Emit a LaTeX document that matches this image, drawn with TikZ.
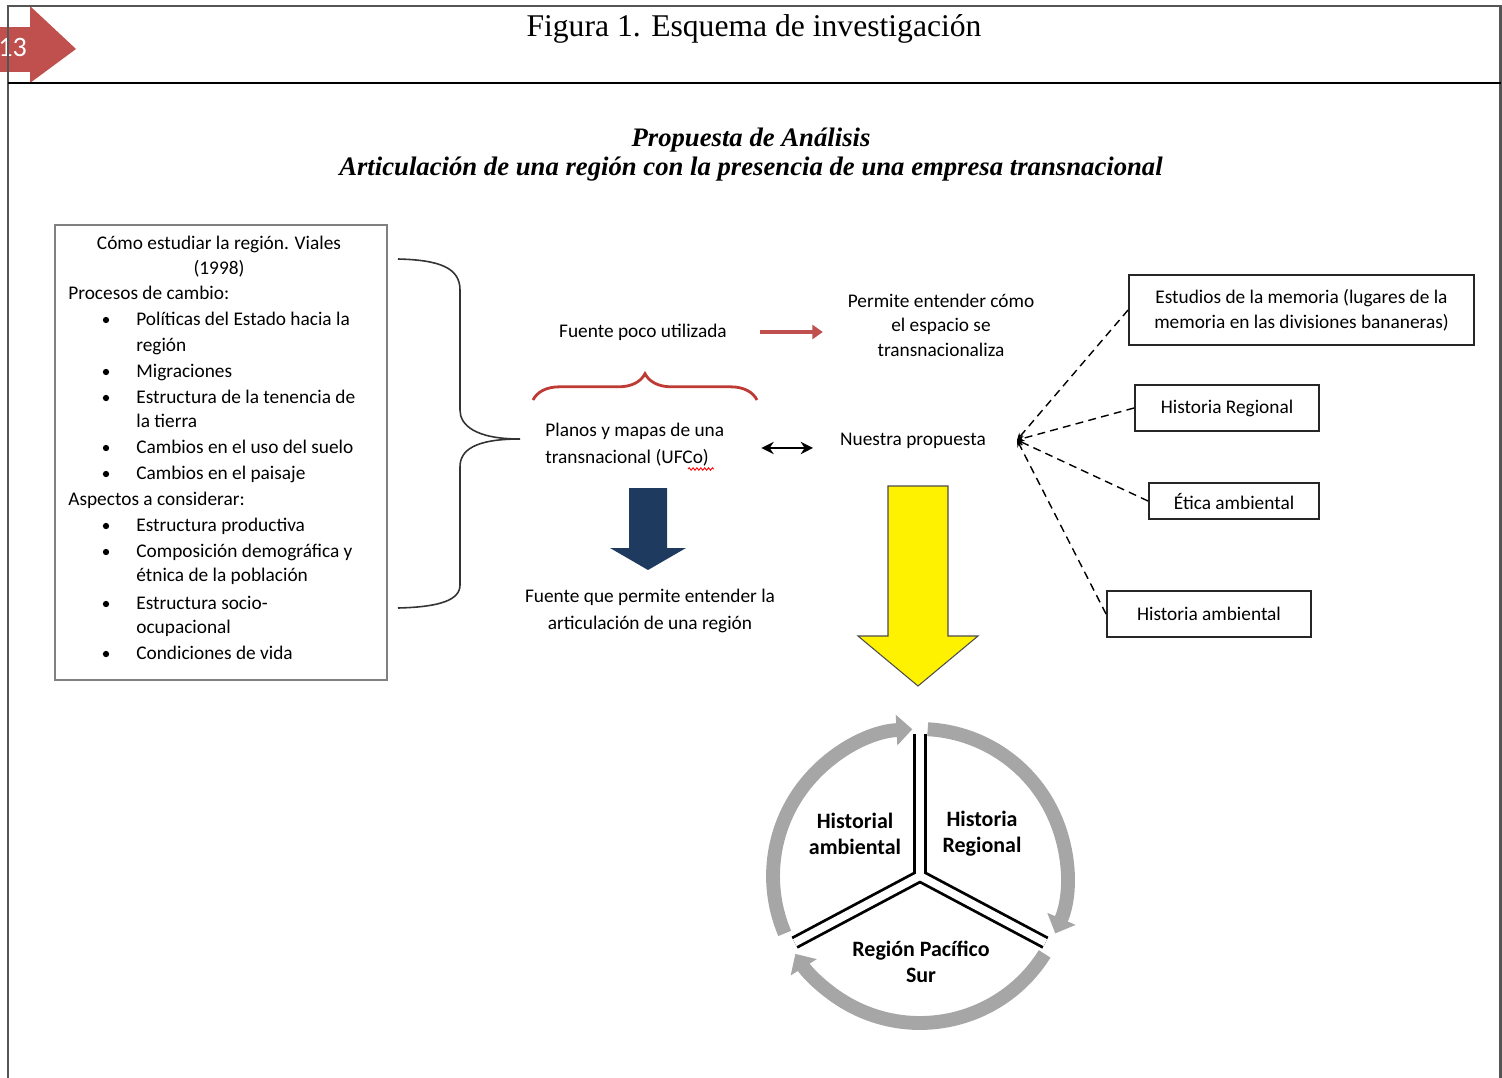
\documentclass[tikz,border=0pt]{standalone}
\usepackage{fontspec}
\setmainfont{Liberation Serif}
\newfontfamily\calibri{Carlito}
\usetikzlibrary{arrows.meta,decorations.pathreplacing,decorations.pathmorphing}

\definecolor{tagred}{HTML}{C0504D}
\definecolor{bracered}{HTML}{BE3A34}
\definecolor{navyarrow}{HTML}{1F3A5F}
\definecolor{ringgray}{HTML}{A6A6A6}
\definecolor{frameline}{HTML}{555555}

\tikzset{
  txt/.style={font=\calibri\fontsize{11}{14.7}\selectfont, inner sep=0pt},
  tagbox/.style={draw=black!85, line width=1.1pt, font=\calibri\fontsize{11}{14.2}\selectfont, align=center, inner sep=0pt},
  link/.style={dashed, dash pattern=on 4.5pt off 3pt, line width=0.8pt, -{Stealth[length=4pt,width=3.5pt]}},
  sector/.style={font=\calibri\bfseries\fontsize{12.5}{14.7}\selectfont, align=center, inner sep=0pt},
  ring/.style={ringgray, line width=7.9pt, -{Triangle[width=17pt,length=9pt]}},
}

\begin{document}
\begin{tikzpicture}[x=0.02cm, y=-0.02cm]
\useasboundingbox (0,0) rectangle (1502,1078);
% Page tag
\fill[tagred] (0,27) rectangle (30,72);
\fill[tagred] (30,6) -- (76,49) -- (30,83) -- cycle;
\node[white, font=\calibri\fontsize{16}{16}\selectfont, anchor=west, inner sep=0pt] (page) at (-2,47) {13};
% Frame
\draw[frameline, line width=1.2pt] (8,1078) -- (8,6) -- (1500.5,6) -- (1500.5,1078);
\draw[black, line width=0.9pt] (8,83) -- (1500.5,83);
\node[font=\fontsize{18}{18}\selectfont, inner sep=0pt] (title) at (754,28.5) {Figura 1. Esquema de investigación};
% Heading
\node[font=\bfseries\itshape\fontsize{15.2}{17}\selectfont, align=center, inner sep=0pt] (heading) at (751,154.5)
  {Propuesta de Análisis\\Articulación de una región con la presencia de una empresa transnacional};

% Left box
\node[draw=black!50, line width=0.8pt, minimum width=6.64cm, minimum height=9.1cm] (lbox) at (221,452.5) {};
\foreach \b/\t [count=\i] in {249/{Cómo estudiar la región. Viales}, 275/{(1998)}}
  \node[txt, anchor=base] (head\i) at (219,\b) {\t};
\foreach \b/\t [count=\i] in {299/{Procesos de cambio:}, 505/{Aspectos a considerar:}}
  \node[txt, anchor=base west] (sub\i) at (68,\b) {\t};
\foreach \b/\t [count=\i] in {325/{Políticas del Estado hacia la}, 351/{región}, 377/{Migraciones},
    403/{Estructura de la tenencia de}, 427/{la tierra}, 453/{Cambios en el uso del suelo},
    479/{Cambios en el paisaje}, 531/{Estructura productiva}, 557/{Composición demográfica y},
    581/{étnica de la población}, 609/{Estructura socio-}, 633/{ocupacional}, 659/{Condiciones de vida}}
  \node[txt, anchor=base west] (item\i) at (136,\b) {\t};
\foreach \b in {325,377,403,453,479,531,557,609,659}
  \fill (106,\b-5) circle (1.8pt);
% Big brace
\draw[black!80, line width=0.9pt] (398,259) .. controls (440,260) and (460,268) .. (460,290) -- (460,410)
  .. controls (460,425) and (475,439) .. (520,439) .. controls (475,439) and (460,450) .. (460,467)
  -- (460,585) .. controls (460,600) and (440,607) .. (398,608);

% Middle column
\node[txt] (poco) at (643,332) {Fuente poco utilizada};
\node[txt, align=center, font=\calibri\fontsize{11}{13.9}\selectfont] (permite) at (941,325)
  {Permite entender cómo\\el espacio se\\transnacionaliza};
\draw[tagred, line width=2.3pt, -{Triangle[width=8pt,length=6pt]}, shorten <=18.7pt, shorten >=14pt]
  (poco.east) -- (poco.east -| permite.west);
\draw[bracered, line width=1.6pt, decorate, decoration={brace, amplitude=15pt}] (533,400) -- (757,400);
\node[txt, align=left, anchor=west, font=\calibri\fontsize{11}{15.3}\selectfont] (planos) at (545,445)
  {Planos y mapas de una\\transnacional (UFCo)};
\draw[red, line width=0.5pt, decorate, decoration={snake, amplitude=0.7pt, segment length=2.2pt}] (688,469) -- (714,469);
\node[txt] (nuestra) at (913,441) {Nuestra propuesta};
\draw[line width=1.6pt, {Stealth[length=7pt,width=7pt]}-{Stealth[length=7pt,width=7pt]}, shorten <=21pt, shorten >=15.3pt]
  ([yshift=-1.7pt]planos.east) -- ([yshift=-1.7pt]planos.east -| nuestra.west);
% Navy arrow
\fill[navyarrow] (629,488) -- (667,488) -- (667,548) -- (686,548) -- (648,570) -- (610,548) -- (629,548) -- cycle;
\node[txt, align=center, font=\calibri\fontsize{11}{15.3}\selectfont] (fuente) at (650,611)
  {Fuente que permite entender la\\articulación de una región};
% Yellow arrow
\draw[fill=yellow, draw=black!70, line width=0.6pt] (888,486) -- (948,486) -- (948,636) -- (978,636)
  -- (918,686) -- (858,636) -- (888,636) -- cycle;

% Right boxes
\node[tagbox, minimum width=6.9cm, minimum height=1.4cm] (mem) at (1301.5,310)
  {Estudios de la memoria (lugares de la\\memoria en las divisiones bananeras)};
\node[tagbox, minimum width=3.68cm, minimum height=0.92cm] (reg) at (1227,408) {Historia Regional};
\node[tagbox, minimum width=3.4cm, minimum height=0.72cm] (etica) at (1234,501) {Ética ambiental};
\node[tagbox, minimum width=4.08cm, minimum height=0.92cm] (amb) at (1209,614) {Historia ambiental};
\coordinate (hub) at (1017,440);
\foreach \n in {mem,reg,etica,amb}
  \draw[link] (\n.west) -- (hub);

% Cycle
\coordinate (cen) at (920,876);
\foreach \a/\b in {203/93, 87/-23, -32/-148}
  \draw[ring] (cen) ++(\a:2.94cm) arc[start angle=\a, end angle=\b, radius=2.94cm];
\foreach \a in {90,-28,208}
  \draw[line width=7.6pt] (cen) -- ++(\a:2.84cm);
\fill (cen) circle (4.2pt);
\foreach \a in {90,-28,208}
  \draw[white, line width=4.4pt] (cen) -- ++(\a:2.84cm);
\fill[white] (cen) circle (2.2pt);
\node[sector] (hamb) at (855,834) {Historial\\ambiental};
\node[sector] (hreg) at (982,834) {Historia\\Regional};
\node[sector] (rps) at (921,962) {Región Pacífico\\Sur};
\end{tikzpicture}
\end{document}
